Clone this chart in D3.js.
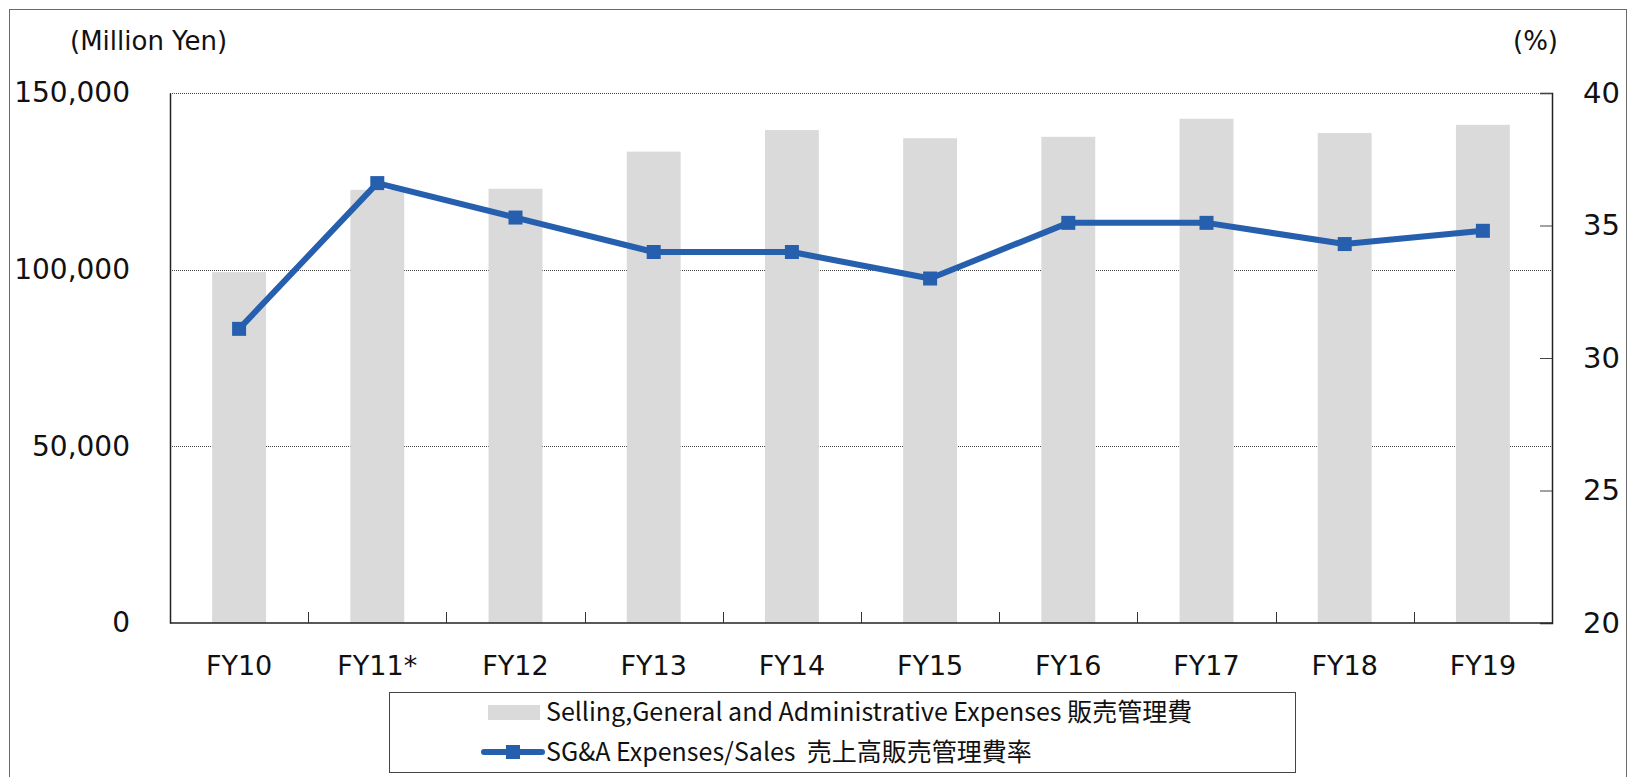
<!DOCTYPE html>
<html>
<head>
<meta charset="utf-8">
<script src="https://cdnjs.cloudflare.com/ajax/libs/d3/7.8.5/d3.min.js"></script>
<style>
  body { margin: 0; background: #fff; }
  svg { display: block; font-family: 'DejaVu Sans', Verdana, sans-serif; }
</style>
</head>
<body>
<svg id="svg0" width="1627" height="777"></svg>
<script>
// data
var years = ['FY10', 'FY11*', 'FY12', 'FY13', 'FY14', 'FY15', 'FY16', 'FY17', 'FY18', 'FY19'];
var sgaExpenses = [99300, 122600, 122900, 133400, 139500, 137200, 137600, 142700, 138700, 141000];
var sgaRatio = [31.1, 36.6, 35.3, 34.0, 34.0, 33.0, 35.1, 35.1, 34.3, 34.8];
var leftTicks = [0, 50000, 100000, 150000];
var rightTicks = [20, 25, 30, 35, 40];
var legendLabels = ['Selling,General and Administrative Expenses 販売管理費', 'SG&A Expenses/Sales  売上高販売管理費率'];

var width = 1627;
var height = 777;

var plotLeft = 170;
var plotRight = 1552;
var plotTop = 93;
var plotBottom = 623;

var barColor = '#dadada';
var lineColor = '#265fad';

var svg0 = d3.select('#svg0');

// outer frame
svg0.append('rect')
    .attr('x', 9.5)
    .attr('y', 9.5)
    .attr('width', width - 10)
    .attr('height', height)
    .attr('fill', 'none')
    .attr('stroke', '#6b6b6b')
    .attr('stroke-width', 1);

var x = d3.scaleBand()
    .domain(years)
    .range([plotLeft, plotRight]);

var yLeft = d3.scaleLinear()
    .domain([0, 150000])
    .range([plotBottom, plotTop]);

var yRight = d3.scaleLinear()
    .domain([20, 40])
    .range([plotBottom, plotTop]);

// dotted gridlines
svg0.selectAll('.grid')
    .data(leftTicks.filter(function(d){ return d > 0; }))
    .enter()
    .append('line')
    .attr('class', 'grid')
    .attr('x1', plotLeft)
    .attr('x2', plotRight)
    .attr('y1', function(d){ return Math.round(yLeft(d)) + 0.5; })
    .attr('y2', function(d){ return Math.round(yLeft(d)) + 0.5; })
    .attr('stroke', '#444')
    .attr('stroke-width', 1)
    .attr('stroke-dasharray', '1,1');

// bars
var barW = x.bandwidth() * 0.39;
svg0.selectAll('.bar')
    .data(sgaExpenses)
    .enter()
    .append('rect')
    .attr('class', 'bar')
    .attr('x', function(d, i){ return x(years[i]) + x.bandwidth() / 2 - barW / 2; })
    .attr('y', function(d){ return yLeft(d); })
    .attr('width', barW)
    .attr('height', function(d){ return plotBottom - yLeft(d); })
    .attr('fill', barColor);

// left axis
var leftAxis = svg0.append('g')
    .attr('transform', 'translate(' + plotLeft + ',0)')
    .call(d3.axisLeft(yLeft).tickValues(leftTicks).tickSize(0).tickPadding(40).tickFormat(d3.format(',')));
leftAxis.select('.domain').attr('stroke', '#222').attr('stroke-width', 1.5);
leftAxis.selectAll('text')
    .attr('font-size', 28)
    .attr('font-family', "'DejaVu Sans', Verdana, sans-serif")
    .attr('fill', '#111');

// right axis
var rightAxis = svg0.append('g')
    .attr('transform', 'translate(' + plotRight + ',0)')
    .call(d3.axisRight(yRight).tickValues(rightTicks).tickSize(-12).tickPadding(31));
rightAxis.select('.domain').attr('stroke', '#222').attr('stroke-width', 1.5);
rightAxis.selectAll('line').attr('stroke', '#444');
rightAxis.selectAll('text')
    .attr('font-size', 29)
    .attr('font-family', "'DejaVu Sans', Verdana, sans-serif")
    .attr('fill', '#111');

// bottom axis with ticks between categories
svg0.append('line')
    .attr('x1', plotLeft)
    .attr('x2', plotRight)
    .attr('y1', plotBottom)
    .attr('y2', plotBottom)
    .attr('stroke', '#222')
    .attr('stroke-width', 1.5);

svg0.selectAll('.xtick')
    .data(years.slice(1))
    .enter()
    .append('line')
    .attr('class', 'xtick')
    .attr('x1', function(d){ return Math.round(x(d)) + 0.5; })
    .attr('x2', function(d){ return Math.round(x(d)) + 0.5; })
    .attr('y1', plotBottom)
    .attr('y2', plotBottom - 11)
    .attr('stroke', '#333')
    .attr('stroke-width', 1);

svg0.selectAll('.xlabel')
    .data(years)
    .enter()
    .append('text')
    .attr('class', 'xlabel')
    .attr('x', function(d){ return x(d) + x.bandwidth() / 2; })
    .attr('y', 675)
    .attr('text-anchor', 'middle')
    .attr('font-size', 27)
    .attr('fill', '#111')
    .text(function(d){ return d; });

// ratio line
var line = d3.line()
    .x(function(d, i){ return x(years[i]) + x.bandwidth() / 2; })
    .y(function(d){ return yRight(d); });

svg0.append('path')
    .datum(sgaRatio)
    .attr('d', line)
    .attr('fill', 'none')
    .attr('stroke', lineColor)
    .attr('stroke-width', 6)
    .attr('stroke-linejoin', 'round');

var mk = 14;
svg0.selectAll('.marker')
    .data(sgaRatio)
    .enter()
    .append('rect')
    .attr('class', 'marker')
    .attr('x', function(d, i){ return x(years[i]) + x.bandwidth() / 2 - mk / 2; })
    .attr('y', function(d){ return yRight(d) - mk / 2; })
    .attr('width', mk)
    .attr('height', mk)
    .attr('fill', lineColor);

// unit labels
svg0.append('text')
    .attr('x', 70)
    .attr('y', 50)
    .attr('font-size', 26)
    .attr('fill', '#111')
    .text('(Million Yen)');

svg0.append('text')
    .attr('x', 1513)
    .attr('y', 50)
    .attr('font-size', 26)
    .attr('fill', '#111')
    .text('(%)');

// legend
var legend = svg0.append('g');

legend.append('rect')
    .attr('x', 389.5)
    .attr('y', 692.5)
    .attr('width', 906)
    .attr('height', 80)
    .attr('fill', '#fff')
    .attr('stroke', '#444')
    .attr('stroke-width', 1);

legend.append('rect')
    .attr('x', 488)
    .attr('y', 705)
    .attr('width', 52)
    .attr('height', 15)
    .attr('fill', barColor);

legend.append('line')
    .attr('x1', 484)
    .attr('x2', 542)
    .attr('y1', 752)
    .attr('y2', 752)
    .attr('stroke', lineColor)
    .attr('stroke-width', 6)
    .attr('stroke-linecap', 'round');

legend.append('rect')
    .attr('x', 513 - mk / 2)
    .attr('y', 752 - mk / 2)
    .attr('width', mk)
    .attr('height', mk)
    .attr('fill', lineColor);

legend.selectAll('.legtext')
    .data(legendLabels)
    .enter()
    .append('text')
    .attr('class', 'legtext')
    .attr('x', 546)
    .attr('y', function(d, i){ return 721 + i * 40; })
    .attr('font-family', "'Noto Sans CJK JP', sans-serif")
    .attr('font-size', 25)
    .style('white-space', 'pre')
    .attr('fill', '#111')
    .text(function(d){ return d; });
</script>
</body>
</html>
